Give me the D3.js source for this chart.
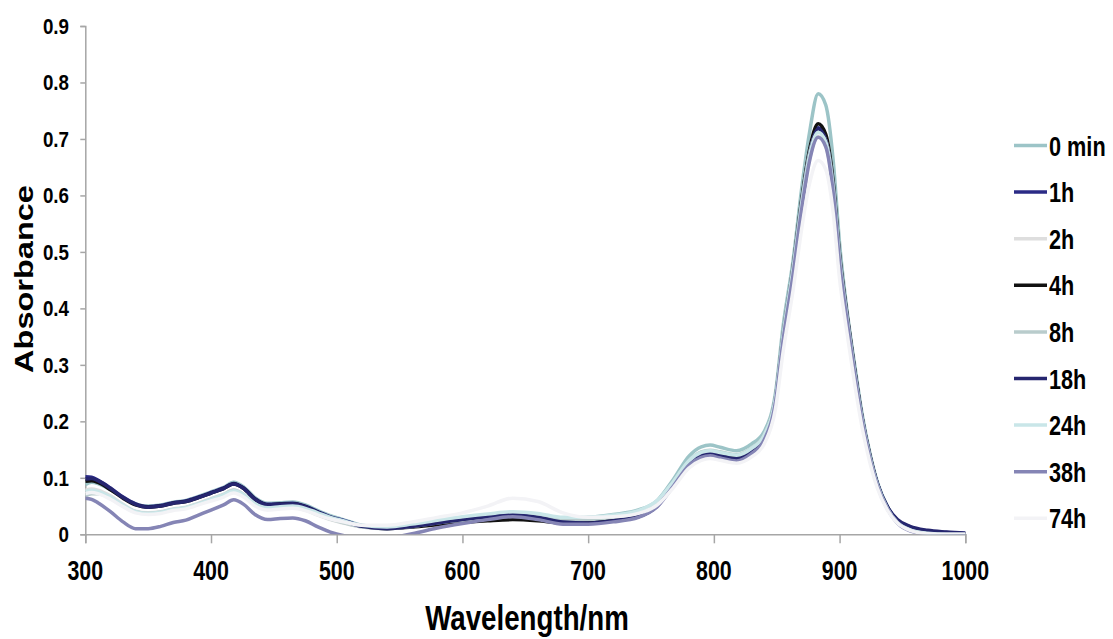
<!DOCTYPE html>
<html>
<head>
<meta charset="utf-8">
<script src="https://cdn.jsdelivr.net/npm/d3@7"></script>
<style>
  body { margin: 0; background: #fff; }
  svg text { font-family: "Liberation Sans", Arial, sans-serif; font-weight: bold; fill: #000; }
</style>
</head>
<body>
<svg id="chart" width="1113" height="639"></svg>
<script>
// Wavelength grid (nm)
const wavelengths = [300,305,310,320,330,340,350,360,370,380,390,400,410,418,426,435,445,455,465,475,
  485,495,505,520,540,560,580,600,620,640,660,680,700,720,740,755,768,780,790,797,
  805,818,830,840,849,855,863,870,876,883,889,895,900,906,912,918,924,930,938,946,
  956,970,985,1000];

// Absorbance, one array per time point
const abs0min = [0.088,0.092,0.090,0.079,0.065,0.054,0.050,0.052,0.057,0.060,0.067,0.075,0.083,0.092,0.084,0.065,0.055,0.056,0.057,0.052,
  0.042,0.033,0.026,0.016,0.012,0.015,0.021,0.026,0.031,0.036,0.032,0.027,0.030,0.035,0.043,0.060,0.098,0.138,0.155,0.158,
  0.154,0.148,0.160,0.182,0.250,0.367,0.485,0.615,0.710,0.780,0.760,0.660,0.515,0.395,0.300,0.212,0.145,0.093,0.050,0.023,
  0.009,0.002,0.000,0.000];
const abs1h = [0.102,0.101,0.096,0.082,0.066,0.054,0.049,0.051,0.056,0.059,0.066,0.074,0.082,0.090,0.082,0.063,0.053,0.054,0.055,0.050,
  0.040,0.031,0.025,0.015,0.011,0.014,0.020,0.025,0.030,0.034,0.029,0.021,0.021,0.025,0.032,0.052,0.090,0.127,0.142,0.145,
  0.141,0.136,0.148,0.172,0.240,0.350,0.470,0.590,0.675,0.720,0.700,0.615,0.490,0.385,0.290,0.205,0.140,0.090,0.048,0.024,
  0.012,0.006,0.003,0.002];
const abs2h = [0.078,0.080,0.078,0.068,0.053,0.041,0.038,0.040,0.045,0.048,0.055,0.063,0.071,0.079,0.071,0.053,0.044,0.046,0.047,0.043,
  0.034,0.026,0.020,0.013,0.011,0.016,0.022,0.028,0.033,0.038,0.035,0.028,0.028,0.031,0.038,0.055,0.088,0.124,0.139,0.142,
  0.139,0.134,0.146,0.170,0.236,0.345,0.462,0.580,0.663,0.705,0.688,0.605,0.482,0.378,0.283,0.200,0.136,0.087,0.046,0.022,
  0.009,0.003,0.001,0.000];
const abs4h = [0.094,0.095,0.092,0.079,0.064,0.052,0.048,0.050,0.055,0.058,0.065,0.073,0.081,0.089,0.081,0.062,0.052,0.053,0.054,0.049,
  0.039,0.030,0.023,0.014,0.010,0.013,0.017,0.021,0.024,0.026,0.024,0.020,0.021,0.025,0.032,0.052,0.090,0.128,0.143,0.146,
  0.142,0.137,0.149,0.173,0.242,0.352,0.473,0.595,0.680,0.727,0.708,0.622,0.495,0.388,0.292,0.206,0.141,0.090,0.048,0.023,
  0.010,0.004,0.002,0.001];
const abs8h = [0.068,0.072,0.072,0.064,0.051,0.040,0.037,0.039,0.044,0.047,0.054,0.062,0.070,0.078,0.070,0.053,0.045,0.047,0.048,0.044,
  0.035,0.027,0.021,0.013,0.010,0.014,0.020,0.025,0.030,0.034,0.031,0.025,0.026,0.030,0.037,0.055,0.092,0.130,0.146,0.149,
  0.146,0.141,0.153,0.176,0.243,0.353,0.472,0.590,0.674,0.715,0.698,0.615,0.490,0.384,0.288,0.204,0.139,0.089,0.047,0.022,
  0.009,0.003,0.001,0.000];
const abs18h = [0.098,0.099,0.095,0.081,0.065,0.053,0.048,0.050,0.055,0.058,0.065,0.073,0.081,0.089,0.081,0.062,0.052,0.053,0.054,0.049,
  0.039,0.030,0.024,0.014,0.010,0.014,0.020,0.026,0.031,0.035,0.030,0.022,0.020,0.024,0.031,0.050,0.088,0.125,0.140,0.143,
  0.139,0.134,0.146,0.170,0.238,0.347,0.467,0.586,0.670,0.718,0.698,0.612,0.488,0.383,0.288,0.204,0.139,0.090,0.049,0.026,
  0.014,0.007,0.004,0.002];
const abs24h = [0.076,0.078,0.076,0.066,0.052,0.040,0.037,0.039,0.044,0.047,0.054,0.062,0.070,0.077,0.070,0.054,0.047,0.049,0.050,0.046,
  0.038,0.030,0.024,0.016,0.013,0.018,0.025,0.031,0.036,0.040,0.037,0.030,0.030,0.034,0.042,0.060,0.094,0.130,0.145,0.148,
  0.145,0.140,0.152,0.175,0.242,0.351,0.470,0.588,0.670,0.712,0.695,0.612,0.488,0.382,0.287,0.203,0.138,0.088,0.046,0.021,
  0.008,0.002,0.000,0.000];
const abs38h = [0.064,0.062,0.056,0.040,0.022,0.010,0.010,0.014,0.021,0.025,0.034,0.043,0.052,0.061,0.053,0.035,0.026,0.028,0.029,0.024,
  0.013,0.004,-0.002,-0.006,-0.006,0.001,0.011,0.019,0.026,0.031,0.026,0.018,0.018,0.022,0.030,0.049,0.086,0.122,0.136,0.139,
  0.135,0.130,0.143,0.167,0.234,0.342,0.460,0.578,0.660,0.703,0.686,0.603,0.480,0.376,0.282,0.199,0.135,0.086,0.045,0.020,
  0.006,0.000,-0.002,-0.002];
const abs74h = [0.072,0.074,0.072,0.062,0.049,0.038,0.035,0.037,0.042,0.045,0.052,0.059,0.066,0.073,0.066,0.050,0.043,0.045,0.046,0.042,
  0.034,0.027,0.022,0.016,0.016,0.022,0.030,0.038,0.050,0.064,0.058,0.038,0.030,0.031,0.037,0.052,0.083,0.117,0.131,0.134,
  0.131,0.126,0.137,0.160,0.222,0.322,0.432,0.543,0.620,0.662,0.646,0.568,0.452,0.355,0.266,0.188,0.128,0.082,0.043,0.020,
  0.007,0.001,0.000,0.000];

const seriesNames = ["0 min", "1h", "2h", "4h", "8h", "18h", "24h", "38h", "74h"];
const seriesValues = [abs0min, abs1h, abs2h, abs4h, abs8h, abs18h, abs24h, abs38h, abs74h];
const seriesColors = ["#9cc4c7", "#2b2b86", "#dedede", "#111111", "#b9cccc", "#26266f", "#c9e6e8", "#8585b5", "#f3f3f6"];

const xTicks = [300, 400, 500, 600, 700, 800, 900, 1000];
const yTicks = [0, 0.1, 0.2, 0.3, 0.4, 0.5, 0.6, 0.7, 0.8, 0.9];

const svg = d3.select("#chart");
const axisColor = "#a6a6a6";

// Plot area
const x = d3.scaleLinear().domain([300, 1000]).range([85.3, 965.3]);
const y = d3.scaleLinear().domain([0, 0.9]).range([534.3, 26]);

svg.append("defs").append("clipPath").attr("id", "plot")
  .append("rect")
  .attr("x", x(300)).attr("y", y(0.9) - 5)
  .attr("width", x(1000) - x(300) + 5).attr("height", y(0) - y(0.9) + 5);

// Axes
const yAxis = d3.axisLeft(y).tickValues(yTicks).tickSize(5).tickFormat("");
const xAxis = d3.axisBottom(x).tickValues(xTicks).tickSize(9).tickFormat("");

const gy = svg.append("g").attr("transform", `translate(${x(300)},0)`).call(yAxis);
const gx = svg.append("g").attr("transform", `translate(0,${y(0)})`).call(xAxis);
[gx, gy].forEach(g => {
  g.select(".domain").attr("stroke", axisColor).attr("stroke-width", 1.5);
  g.selectAll(".tick line").attr("stroke", axisColor).attr("stroke-width", 1.5);
});

// Tick labels (image is stretched vertically, so text is scaled in y)
yTicks.forEach(t => {
  svg.append("text")
    .attr("transform", `translate(69,${y(t)}) scale(1,1.14)`)
    .attr("text-anchor", "end")
    .attr("dy", "0.36em")
    .style("font-size", "18.8px")
    .text(t === 0 ? "0" : d3.format(".1f")(t));
});
xTicks.forEach(t => {
  svg.append("text")
    .attr("transform", `translate(${x(t)},580) scale(1,1.3)`)
    .attr("text-anchor", "middle")
    .style("font-size", "21.4px")
    .text(t);
});

// Axis titles
svg.append("text")
  .attr("transform", "translate(527,630) scale(1,1.26)")
  .attr("text-anchor", "middle")
  .style("font-size", "27.7px")
  .text("Wavelength/nm");
svg.append("text")
  .attr("transform", "translate(33,279) scale(1,1.3) rotate(-90)")
  .attr("text-anchor", "middle")
  .style("font-size", "25px")
  .text("Absorbance");

// Spectra
const line = d3.line()
  .x(d => x(d[0]))
  .y(d => y(d[1]))
  .curve(d3.curveMonotoneX);

const plot = svg.append("g").attr("clip-path", "url(#plot)");
seriesValues.forEach((vals, i) => {
  plot.append("path")
    .datum(wavelengths.map((w, j) => [w, vals[j]]))
    .attr("fill", "none")
    .attr("stroke", seriesColors[i])
    .attr("stroke-width", 3.5)
    .attr("stroke-linejoin", "round")
    .attr("d", line);
});

// Legend
const legend = svg.append("g");
seriesNames.forEach((name, i) => {
  const cy = 145.5 + i * 46.6;
  legend.append("line")
    .attr("x1", 1014).attr("x2", 1047)
    .attr("y1", cy).attr("y2", cy)
    .attr("stroke", seriesColors[i])
    .attr("stroke-width", 3.5);
  legend.append("text")
    .attr("transform", `translate(1049,${cy}) scale(1,1.29)`)
    .attr("dy", "0.36em")
    .style("font-size", "21.7px")
    .text(name);
});
</script>
</body>
</html>
